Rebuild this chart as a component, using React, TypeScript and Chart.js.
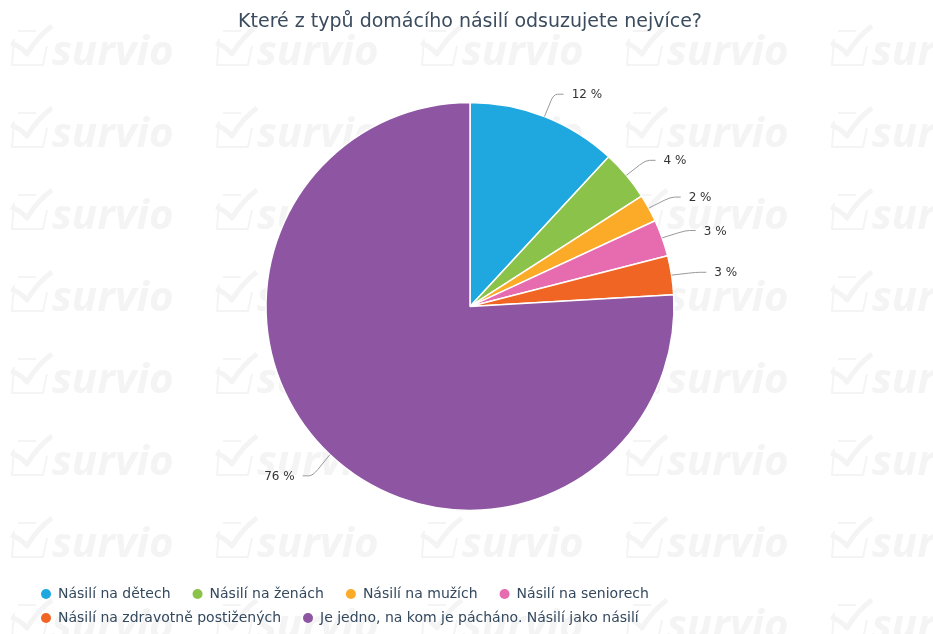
import { useEffect, useRef } from "react";
import { Chart, registerables } from "chart.js";

Chart.register(...registerables);

const titleText = "Které z typů domácího násilí odsuzujete nejvíce?";
const categories = [
  "Násilí na dětech",
  "Násilí na ženách",
  "Násilí na mužích",
  "Násilí na seniorech",
  "Násilí na zdravotně postižených",
  "Je jedno, na kom je pácháno. Násilí jako násilí",
];
const shares = [11.9, 4.0, 2.2, 2.9, 3.1, 75.9];
const sliceColors = ["#1fa8e0", "#8bc34a", "#fbab27", "#e66baf", "#f06524", "#8d55a2"];
const watermarkText = "survio";
const watermarkCols = [10, 215, 420, 625, 830];
const watermarkRows = [48, 130, 212, 294, 376, 458, 540, 622];

const watermarkPlugin = {
  id: "watermark",
  beforeDraw(chart: any) {
    const ctx = chart.ctx;
    ctx.save();
    ctx.strokeStyle = "#f4f4f4";
    ctx.fillStyle = "#f4f4f4";
    for (const yc of watermarkRows) {
      for (const x0 of watermarkCols) {
        ctx.lineWidth = 2;
        ctx.beginPath();
        ctx.moveTo(x0 + 4, yc - 9);
        ctx.lineTo(x0 + 2, yc + 17);
        ctx.lineTo(x0 + 33, yc + 17);
        ctx.lineTo(x0 + 37, yc - 2);
        ctx.moveTo(x0 + 8, yc - 17);
        ctx.lineTo(x0 + 26, yc - 17);
        ctx.stroke();
        ctx.lineWidth = 5;
        ctx.lineJoin = "round";
        ctx.beginPath();
        ctx.moveTo(x0 + 1, yc - 5);
        ctx.quadraticCurveTo(x0 + 10, yc - 2, x0 + 17, yc + 6);
        ctx.quadraticCurveTo(x0 + 28, yc - 12, x0 + 42, yc - 22);
        ctx.stroke();
        ctx.font = 'italic bold 42px "Open Sans"';
        ctx.textBaseline = "alphabetic";
        ctx.textAlign = "left";
        ctx.fillText(watermarkText, x0 + 42, yc + 17);
      }
    }
    ctx.restore();
  },
};

const labelsPlugin = {
  id: "outLabels",
  afterDatasetsDraw(chart: any) {
    const ctx = chart.ctx;
    const meta = chart.getDatasetMeta(0);
    const data = chart.data.datasets[0].data as number[];
    const total = data.reduce((a, b) => a + b, 0);
    ctx.save();
    meta.data.forEach((arc: any, i: number) => {
      const a = (arc.startAngle + arc.endAngle) / 2;
      const r = arc.outerRadius;
      const cx = arc.x;
      const cy = arc.y;
      const x0 = cx + Math.cos(a) * r;
      const y0 = cy + Math.sin(a) * r;
      const x1 = cx + Math.cos(a) * (r + 25);
      const y1 = cy + Math.sin(a) * (r + 25) + (Math.sin(a) > 0.3 ? 3 : 1);
      const sign = Math.cos(a) >= 0 ? 1 : -1;
      ctx.strokeStyle = "#999999";
      ctx.lineWidth = 1;
      ctx.beginPath();
      ctx.moveTo(x0, y0);
      const kx = x0 + (x1 - x0) * 0.7;
      const ky = y0 + (y1 - y0) * 0.7;
      ctx.lineTo(kx, ky);
      ctx.quadraticCurveTo(x1, y1, x1 + sign * 4, y1);
      ctx.lineTo(x1 + sign * 10, y1);
      ctx.stroke();
      ctx.fillStyle = "#333333";
      ctx.font = '12px "DejaVu Sans"';
      ctx.textBaseline = "middle";
      ctx.textAlign = sign > 0 ? "left" : "right";
      const pct = Math.round((data[i] / total) * 100);
      ctx.fillText(pct + " %", x1 + sign * 18, y1 + 1);
    });
    ctx.restore();
  },
};

const legendPlugin = {
  id: "customLegend",
  afterDraw(chart: any) {
    const ctx = chart.ctx;
    const labels = chart.data.labels as string[];
    const colors = chart.data.datasets[0].backgroundColor as string[];
    ctx.save();
    ctx.font = '14px "DejaVu Sans"';
    ctx.textBaseline = "middle";
    ctx.textAlign = "left";
    const startX = 41;
    const maxRight = 700;
    let x = startX;
    let y = 594;
    labels.forEach((lab, i) => {
      const w = 17 + ctx.measureText(lab).width;
      if (x > startX && x + w > maxRight) {
        x = startX;
        y += 24;
      }
      ctx.fillStyle = colors[i];
      ctx.beginPath();
      ctx.arc(x + 5, y, 5, 0, Math.PI * 2);
      ctx.fill();
      ctx.fillStyle = "#34495e";
      ctx.fillText(lab, x + 17, y);
      x += w + 22;
    });
    ctx.restore();
  },
};

export default function App() {
  const ref = useRef<HTMLCanvasElement>(null);
  useEffect(() => {
    document.body.style.margin = "0";
    const chart = new Chart(ref.current!, {
      type: "pie",
      data: {
        labels: categories,
        datasets: [
          {
            data: shares,
            backgroundColor: sliceColors,
            borderColor: "#ffffff",
            borderWidth: 1.5,
            radius: 204,
          } as any,
        ],
      },
      options: {
        animation: false,
        responsive: true,
        maintainAspectRatio: false,
        layout: { padding: { left: 7, right: 0, top: 0, bottom: 64 } },
        plugins: {
          legend: { display: false },
          tooltip: { enabled: false },
          title: {
            display: true,
            text: titleText,
            color: "#3a4b5e",
            font: { family: '"DejaVu Sans"', size: 19, weight: "normal" },
            padding: { top: 11, bottom: 9 },
          },
        },
      },
      plugins: [watermarkPlugin, labelsPlugin, legendPlugin],
    });
    return () => chart.destroy();
  }, []);
  return (
    <div style={{ width: 933, height: 634, position: "relative" }}>
      <canvas ref={ref} />
    </div>
  );
}
